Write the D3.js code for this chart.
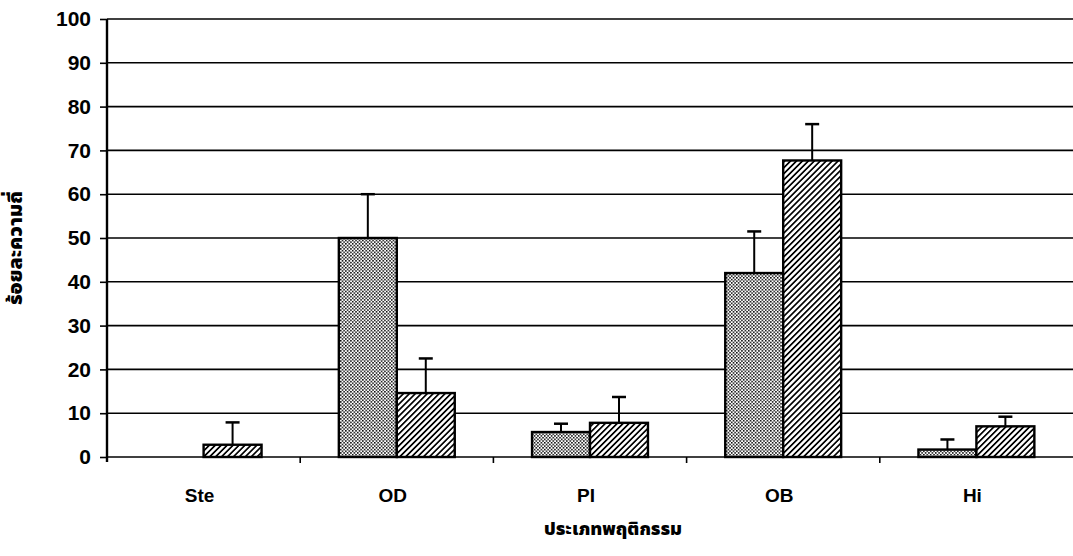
<!DOCTYPE html>
<html>
<head>
<meta charset="utf-8">
<script src="https://cdn.jsdelivr.net/npm/d3@7"></script>
<style>
  body { margin: 0; background: #fff; }
  text { font-family: "Liberation Sans", Arial, sans-serif; font-weight: bold; fill: #000; }
  .thai { font-family: "Noto Sans Thai", "Noto Sans", "DejaVu Sans", sans-serif; font-weight: 900; }
</style>
</head>
<body>
<svg class="chart"></svg>
<script>
var width = 1073;
var height = 556;

// behaviour categories and the two series (percent)
var categories = ["Ste", "OD", "PI", "OB", "Hi"];
var dotted = [0, 50, 5.7, 42, 1.7];
var dottedErr = [0, 10, 1.9, 9.5, 2.3];
var hatched = [2.8, 14.6, 7.8, 67.7, 7.0];
var hatchedErr = [5.1, 7.9, 5.9, 8.3, 2.2];
var yTicks = [0, 10, 20, 30, 40, 50, 60, 70, 80, 90, 100];

// plot box (window.top is reserved, so not "top")
var plotL = 107, plotR = 1073, plotT = 19, plotB = 457;

var chart = d3.select(".chart").attr("width", width).attr("height", height);

var defs = chart.append("defs");
// stipple pattern
var dots = defs.append("pattern").attr("id", "dots")
    .attr("patternUnits", "userSpaceOnUse").attr("width", 3.4).attr("height", 3.4);
dots.append("rect").attr("width", 3.4).attr("height", 3.4).attr("fill", "#fff");
dots.append("rect").attr("x", 0).attr("y", 0).attr("width", 1.5).attr("height", 1.5).attr("fill", "#000");
dots.append("rect").attr("x", 1.7).attr("y", 1.7).attr("width", 1.5).attr("height", 1.5).attr("fill", "#000");
// diagonal hatch
var hatch = defs.append("pattern").attr("id", "hatch")
    .attr("patternUnits", "userSpaceOnUse").attr("width", 4.2).attr("height", 4.2)
    .attr("patternTransform", "rotate(45)");
hatch.append("rect").attr("width", 4.2).attr("height", 4.2).attr("fill", "#fff");
hatch.append("rect").attr("x", 0).attr("y", 0).attr("width", 1.7).attr("height", 4.2).attr("fill", "#000");

var x = d3.scaleBand().domain(categories).range([plotL, plotR]).paddingInner(0.4).paddingOuter(0.2);
var xs = d3.scaleBand().domain([0, 1]).range([0, x.bandwidth()]);
var y = d3.scaleLinear().domain([0, 100]).range([plotB, plotT]);

// gridlines
chart.append("g").selectAll("line").data(yTicks).enter().append("line")
    .attr("x1", plotL).attr("x2", plotR)
    .attr("y1", function(d){ return y(d); }).attr("y2", function(d){ return y(d); })
    .attr("stroke", "#000").attr("stroke-width", 1.6);

// y axis
var yAxis = chart.append("g").attr("transform", "translate(" + plotL + ",0)")
    .call(d3.axisLeft(y).tickValues(yTicks).tickSize(7).tickPadding(9));
yAxis.select(".domain").attr("stroke-width", 2.4).attr("d", "M0," + (plotB + 5) + "V" + plotT);
yAxis.selectAll(".tick line").attr("stroke-width", 1.6);
yAxis.selectAll("text").style("font-size", "21px").style("font-weight", "bold")
    .style("font-family", "'Liberation Sans', Arial, sans-serif").attr("fill", "#000");

// x axis ticks between categories
var step = x.step();
var boundaries = d3.range(1, categories.length).map(function(i){ return plotL + step * i; });
chart.append("g").selectAll("line").data(boundaries).enter().append("line")
    .attr("x1", function(d){ return d; }).attr("x2", function(d){ return d; })
    .attr("y1", plotB).attr("y2", plotB + 6)
    .attr("stroke", "#000").attr("stroke-width", 1.6);

var series = [
  { values: dotted, err: dottedErr, fill: "url(#dots)" },
  { values: hatched, err: hatchedErr, fill: "url(#hatch)" }
];

series.forEach(function(s, si){
  var g = chart.append("g");
  categories.forEach(function(c, i){
    var v = s.values[i];
    if (v <= 0) return;
    var bx = x(c) + xs(si);
    var bw = xs.bandwidth();
    // error bar (upper only)
    var cx = bx + bw / 2;
    if (s.err[i] > 0) {
      g.append("line").attr("x1", cx).attr("x2", cx)
        .attr("y1", y(v)).attr("y2", y(v + s.err[i]))
        .attr("stroke", "#000").attr("stroke-width", 2);
      g.append("line").attr("x1", cx - 7).attr("x2", cx + 7)
        .attr("y1", y(v + s.err[i])).attr("y2", y(v + s.err[i]))
        .attr("stroke", "#000").attr("stroke-width", 2.5);
    }
    g.append("rect")
      .attr("x", bx).attr("y", y(v))
      .attr("width", bw).attr("height", plotB - y(v))
      .attr("fill", s.fill).attr("stroke", "#000").attr("stroke-width", 2.4);
  });
});

// category labels
chart.append("g").selectAll("text").data(categories).enter().append("text")
    .attr("x", function(d){ return x(d) + x.bandwidth() / 2 - 4; })
    .attr("y", 502)
    .attr("text-anchor", "middle")
    .style("font-size", "19px")
    .text(function(d){ return d; });

// axis titles
chart.append("text").attr("class", "thai")
    .attr("x", 613).attr("y", 535)
    .attr("text-anchor", "middle").style("font-size", "18px")
    .text("ประเภทพฤติกรรม");

chart.append("text").attr("class", "thai")
    .attr("transform", "translate(22," + ((plotT + plotB) / 2 + 10) + ") rotate(-90)")
    .attr("text-anchor", "middle").style("font-size", "20px")
    .text("ร้อยละความถี่");
</script>
</body>
</html>
